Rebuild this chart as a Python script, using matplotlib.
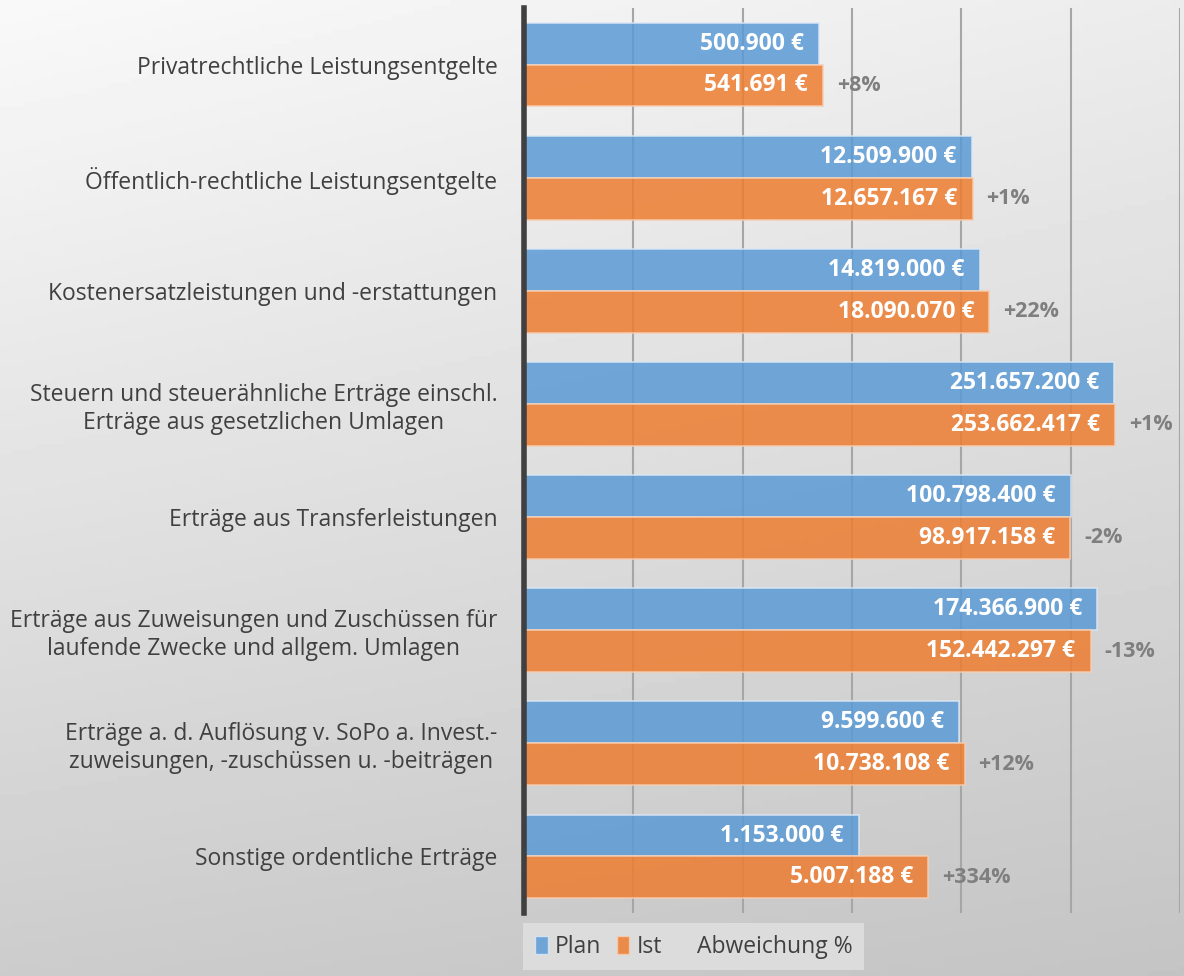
import numpy as np
import matplotlib
matplotlib.use("Agg")
import matplotlib.pyplot as plt
from matplotlib.patches import Patch

plt.rcParams['font.family'] = ['Open Sans', 'DejaVu Sans']

categories = [
    "Privatrechtliche Leistungsentgelte",
    "Öffentlich-rechtliche Leistungsentgelte",
    "Kostenersatzleistungen und -erstattungen",
    "Steuern und steuerähnliche Erträge einschl.\nErträge aus gesetzlichen Umlagen",
    "Erträge aus Transferleistungen",
    "Erträge aus Zuweisungen und Zuschüssen für\nlaufende Zwecke und allgem. Umlagen",
    "Erträge a. d. Auflösung v. SoPo a. Invest.-\nzuweisungen, -zuschüssen u. -beiträgen",
    "Sonstige ordentliche Erträge",
]
plan = [500900, 12509900, 14819000, 251657200, 100798400, 174366900, 9599600, 1153000]
ist = [541691, 12657167, 18090070, 253662417, 98917158, 152442297, 10738108, 5007188]


def euro(v):
    return f"{v:,}".replace(",", ".") + " €"


def pct(p, i):
    d = round((i / p - 1) * 100)
    return f"{d:+d}%"


fig = plt.figure(figsize=(11.84, 9.76), dpi=100)

# background gradient
bg = fig.add_axes([0, 0, 1, 1], zorder=-10)
gx, gy = np.meshgrid(np.linspace(0, 1, 200), np.linspace(0, 1, 200))
tl, tr, bl, br = 249, 236, 204, 196
grad = (tl * (1 - gx) * (1 - gy) + tr * gx * (1 - gy) + bl * (1 - gx) * gy + br * gx * gy) / 255
bg.imshow(grad, cmap='gray', vmin=0, vmax=1, aspect='auto', extent=[0, 1, 0, 1])
bg.axis('off')

ax = fig.add_axes([524 / 1184, 1 - 913 / 976, (1180 - 524) / 1184, (913 - 8) / 976])
ax.patch.set_alpha(0)

y = np.arange(len(categories))
h = 0.37
blue = '#5B9BD5'
orange = '#ED7D31'

ax.barh(y - h / 2, plan, height=h, color=blue, alpha=0.85,
        edgecolor='#dbe8f5', linewidth=1.2, zorder=3)
ax.barh(y + h / 2, ist, height=h, color=orange, alpha=0.85,
        edgecolor='#f7cdb0', linewidth=1.2, zorder=3)

ax.set_xscale('log')
ax.set_xlim(1e3, 1e9)
ax.set_ylim(len(categories) - 0.5, -0.5)

for yi, p, i in zip(y, plan, ist):
    ax.annotate(euro(p), (p, yi - h / 2), xytext=(-11, 0), textcoords='offset points',
                ha='right', va='center', color='white', fontsize=16.5, fontweight='bold', zorder=4)
    ax.annotate(euro(i), (i, yi + h / 2), xytext=(-11, 0), textcoords='offset points',
                ha='right', va='center', color='white', fontsize=16.5, fontweight='bold', zorder=4)
    ax.annotate(pct(p, i), (i, yi + h / 2), xytext=(10, 0), textcoords='offset points',
                ha='left', va='center', color='#7f7f7f', fontsize=15.5, fontweight='bold', zorder=4)

ax.set_yticks(y)
ax.set_yticklabels(categories, fontsize=16.5, color='#404040', multialignment='center')
ax.tick_params(axis='y', length=0, pad=19)
ax.tick_params(axis='x', which='both', length=0, labelbottom=False)
ax.minorticks_off()
ax.set_xticks([1e3, 1e4, 1e5, 1e6, 1e7, 1e8, 1e9])
ax.grid(axis='x', color='#a6a6a6', linewidth=1.5, zorder=0)
ax.set_axisbelow(True)

for s in ['top', 'right', 'bottom']:
    ax.spines[s].set_visible(False)
ax.spines['left'].set_color('#404040')
ax.spines['left'].set_linewidth(4)
ax.spines['left'].set_zorder(5)

handles = [Patch(facecolor=blue, edgecolor='#dbe8f5', alpha=0.85, label='Plan'),
           Patch(facecolor=orange, edgecolor='#f7cdb0', alpha=0.85, label='Ist'),
           Patch(facecolor='none', edgecolor='none', label='Abweichung %')]
leg = fig.legend(handles=handles, loc='lower left', bbox_to_anchor=(512 / 1184, -0.006),
                 ncol=3, frameon=True, fontsize=16.5, handlelength=0.55, handleheight=0.85,
                 handletextpad=0.3, columnspacing=0.7, borderpad=0.5, fancybox=False)
leg.get_frame().set_facecolor('#dcdcdc')
leg.get_frame().set_edgecolor('none')
leg.get_frame().set_alpha(1)
for t in leg.get_texts():
    t.set_color('#404040')

fig.savefig('out.png', dpi=100)
